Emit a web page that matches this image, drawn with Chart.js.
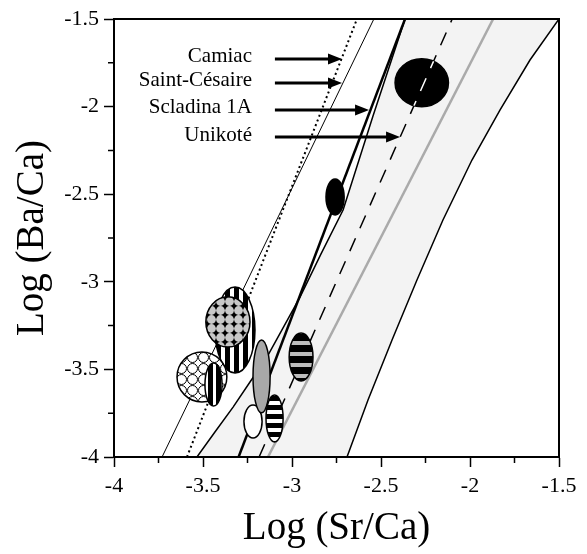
<!DOCTYPE html>
<html>
<head>
<meta charset="utf-8">
<script src="https://cdn.jsdelivr.net/npm/chart.js@4.4.0/dist/chart.umd.min.js"></script>
<style>
  html, body { margin: 0; padding: 0; background: #fff; }
  canvas { display: block; }
</style>
</head>
<body>
<canvas id="chart" width="587" height="554"></canvas>
<script>
// ticks
const xTicks = [-4, -3.5, -3, -2.5, -2, -1.5];
const xTickLabels = ["-4", "-3.5", "-3", "-2.5", "-2", "-1.5"];
const yTicks = [-4, -3.5, -3, -2.5, -2, -1.5];
const yTickLabels = ["-4", "-3.5", "-3", "-2.5", "-2", "-1.5"];

// shaded band, left and right edges (log Sr/Ca, log Ba/Ca)
const bandLeftX = [-3.534, -3.433, -3.331, -3.236, -3.14, -3.051, -2.955, -2.837, -2.713, -2.545, -2.365];
const bandLeftY = [-4, -3.857, -3.715, -3.572, -3.429, -3.264, -3.087, -2.841, -2.59, -2.054, -1.5];
const bandRightX = [-2.691, -2.573, -2.438, -2.298, -2.152, -1.989, -1.831, -1.663, -1.5];
const bandRightY = [-4, -3.675, -3.332, -2.99, -2.647, -2.305, -2.019, -1.734, -1.5];

// trend lines
const camiacX = [-3.59, -2.635];
const camiacY = [-4, -1.5];
const cesaireX = [-3.73, -2.54];
const cesaireY = [-4, -1.5];
const scladinaX = [-3.3, -2.365];
const scladinaY = [-4, -1.5];
const unikoteX = [-3.185, -2.1];
const unikoteY = [-4, -1.5];
const greyX = [-3.135, -1.87];
const greyY = [-4, -1.5];

// site labels + arrows
const siteNames = ["Camiac", "Saint-Césaire", "Scladina 1A", "Unikoté"];
const arrowY = [-1.728, -1.865, -2.019, -2.174];
const arrowFromX = [-3.096, -3.096, -3.096, -3.096];
const arrowToX = [-2.719, -2.719, -2.567, -2.393];
const labelX = -3.225;

// sample ellipses: centre and half widths in log units
const ellX = [-3.32, -3.36, -3.506, -3.441, -3.219, -3.171, -3.098, -2.949, -2.758, -2.271];
const ellY = [-3.275, -3.229, -3.543, -3.586, -3.797, -3.54, -3.78, -3.429, -2.516, -1.864];
const ellRx = [0.112, 0.124, 0.14, 0.048, 0.051, 0.048, 0.048, 0.067, 0.051, 0.15];
const ellRy = [0.245, 0.143, 0.143, 0.123, 0.094, 0.208, 0.134, 0.137, 0.103, 0.137];
const ellFill = ["vstripe", "dots", "rings", "vstripe2", "white", "grey", "hstripe", "hstripeGrey", "black", "black"];

const SERIF = "'Liberation Serif', 'Times New Roman', serif";
const pts = (xs, ys) => xs.map((v, i) => ({ x: v, y: ys[i] }));

function makePattern(ctx, w, h, draw) {
  const c = document.createElement("canvas");
  c.width = w;
  c.height = h;
  draw(c.getContext("2d"));
  return ctx.createPattern(c, "repeat");
}

let patterns = null;
function getPatterns(ctx) {
  if (patterns) return patterns;
  patterns = {
    black: "#000",
    white: "#fff",
    grey: "#a8a8a8",
    vstripe: makePattern(ctx, 9, 9, g => {
      g.fillStyle = "#fff"; g.fillRect(0, 0, 9, 9);
      g.fillStyle = "#000"; g.fillRect(0, 0, 5, 9);
    }),
    vstripe2: makePattern(ctx, 8, 8, g => {
      g.fillStyle = "#fff"; g.fillRect(0, 0, 8, 8);
      g.fillStyle = "#000"; g.fillRect(0, 0, 5, 8);
    }),
    hstripe: makePattern(ctx, 9, 9, g => {
      g.fillStyle = "#fff"; g.fillRect(0, 0, 9, 9);
      g.fillStyle = "#000"; g.fillRect(0, 0, 9, 5);
    }),
    hstripeGrey: makePattern(ctx, 11, 11, g => {
      g.fillStyle = "#000"; g.fillRect(0, 0, 11, 11);
      g.fillStyle = "#bdbdbd"; g.fillRect(0, 0, 11, 4);
    }),
    dots: makePattern(ctx, 9, 9, g => {
      g.fillStyle = "#000"; g.fillRect(0, 0, 9, 9);
      g.fillStyle = "#c8c8c8";
      g.beginPath(); g.arc(4.5, 4.5, 4.4, 0, Math.PI * 2); g.fill();
    }),
    rings: makePattern(ctx, 11, 11, g => {
      g.fillStyle = "#fff"; g.fillRect(0, 0, 11, 11);
      g.strokeStyle = "#000"; g.lineWidth = 1;
      g.beginPath(); g.arc(5.5, 5.5, 5, 0, Math.PI * 2); g.stroke();
    })
  };
  return patterns;
}

function ellipsePath(ctx, x, y, i) {
  const cx = x.getPixelForValue(ellX[i]);
  const cy = y.getPixelForValue(ellY[i]);
  const rx = Math.abs(x.getPixelForValue(ellX[i] + ellRx[i]) - cx);
  const ry = Math.abs(y.getPixelForValue(ellY[i] + ellRy[i]) - cy);
  ctx.beginPath();
  ctx.ellipse(cx, cy, rx, ry, 0, 0, Math.PI * 2);
}

const overlay = {
  id: "overlay",
  afterDatasetsDraw(chart) {
    const { ctx, chartArea: a, scales: { x, y } } = chart;
    const pat = getPatterns(ctx);
    ctx.save();

    // ellipses
    ctx.save();
    ctx.beginPath();
    ctx.rect(a.left, a.top, a.right - a.left, a.bottom - a.top);
    ctx.clip();
    ellX.forEach((v, i) => {
      ellipsePath(ctx, x, y, i);
      ctx.fillStyle = pat[ellFill[i]];
      ctx.fill();
      ctx.lineWidth = 1.5;
      ctx.strokeStyle = "#000";
      ctx.stroke();
    });
    // dashed line shows white through the big black ellipse
    ctx.save();
    ellipsePath(ctx, x, y, ellX.length - 1);
    ctx.clip();
    ctx.beginPath();
    ctx.moveTo(x.getPixelForValue(unikoteX[0]), y.getPixelForValue(unikoteY[0]));
    ctx.lineTo(x.getPixelForValue(unikoteX[1]), y.getPixelForValue(unikoteY[1]));
    ctx.setLineDash([14, 11]);
    ctx.strokeStyle = "#fff";
    ctx.lineWidth = 1.5;
    ctx.stroke();
    ctx.restore();
    ctx.restore();

    // frame
    ctx.lineWidth = 2;
    ctx.strokeStyle = "#000";
    ctx.strokeRect(a.left, a.top, a.right - a.left, a.bottom - a.top);

    // minor ticks
    ctx.lineWidth = 1.5;
    ctx.beginPath();
    for (let v = -3.75; v < -1.5; v += 0.5) {
      const px = x.getPixelForValue(v);
      ctx.moveTo(px, a.bottom);
      ctx.lineTo(px, a.bottom + 6);
      const py = y.getPixelForValue(v);
      ctx.moveTo(a.left, py);
      ctx.lineTo(a.left - 6, py);
    }
    ctx.stroke();

    // arrows and site names
    ctx.fillStyle = "#000";
    ctx.font = "21px " + SERIF;
    ctx.textAlign = "right";
    ctx.textBaseline = "middle";
    siteNames.forEach((name, i) => {
      const py = y.getPixelForValue(arrowY[i]);
      const x0 = x.getPixelForValue(arrowFromX[i]);
      const x1 = x.getPixelForValue(arrowToX[i]);
      ctx.fillText(name, x.getPixelForValue(labelX), py - 2);
      ctx.beginPath();
      ctx.lineWidth = 3;
      ctx.moveTo(x0, py);
      ctx.lineTo(x1 - 12, py);
      ctx.stroke();
      ctx.beginPath();
      ctx.moveTo(x1, py);
      ctx.lineTo(x1 - 14, py - 5.5);
      ctx.lineTo(x1 - 14, py + 5.5);
      ctx.closePath();
      ctx.fill();
    });

    ctx.restore();
  }
};

const lineSet = (data, color, width, dash) => ({
  data: data,
  borderColor: color,
  borderWidth: width,
  borderDash: dash || [],
  pointRadius: 0,
  fill: false,
  tension: 0
});

const bandData = pts(bandLeftX, bandLeftY).concat(pts(bandRightX, bandRightY).reverse());

new Chart(document.getElementById("chart"), {
  type: "line",
  data: {
    datasets: [
      lineSet(pts(scladinaX, scladinaY), "#000", 2.5),
      lineSet(pts(cesaireX, cesaireY), "#000", 1),
      lineSet(pts(camiacX, camiacY), "#000", 2, [2, 3]),
      lineSet(pts(unikoteX, unikoteY), "#000", 1.5, [14, 11]),
      lineSet(pts(greyX, greyY), "#aaaaaa", 2.5),
      {
        data: bandData,
        borderColor: "#000",
        borderWidth: 1.5,
        backgroundColor: "#f3f3f3",
        fill: "shape",
        pointRadius: 0,
        tension: 0
      }
    ]
  },
  options: {
    responsive: false,
    animation: false,
    events: [],
    layout: { padding: { top: 19, right: 28 } },
    plugins: { legend: { display: false }, tooltip: { enabled: false } },
    scales: {
      x: {
        type: "linear",
        min: -4,
        max: -1.5,
        afterBuildTicks: s => { s.ticks = xTicks.map(v => ({ value: v })); },
        afterFit: s => { s.height = 97; },
        ticks: {
          color: "#000",
          padding: 6,
          maxRotation: 0,
          font: { family: SERIF, size: 22 },
          callback: (v, i) => xTickLabels[i]
        },
        grid: { drawOnChartArea: false, tickLength: 10, tickColor: "#000", tickWidth: 1.5 },
        border: { color: "#000", width: 2 },
        title: {
          display: true,
          text: "Log (Sr/Ca)",
          color: "#000",
          font: { family: SERIF, size: 39 },
          padding: { top: 0, bottom: 2 }
        }
      },
      y: {
        type: "linear",
        min: -4,
        max: -1.5,
        afterBuildTicks: s => { s.ticks = yTicks.map(v => ({ value: v })); },
        afterFit: s => { s.width = 114; },
        ticks: {
          color: "#000",
          padding: 5,
          font: { family: SERIF, size: 22 },
          callback: (v, i) => yTickLabels[i]
        },
        grid: { drawOnChartArea: false, tickLength: 10, tickColor: "#000", tickWidth: 1.5 },
        border: { color: "#000", width: 2 },
        title: {
          display: true,
          text: "Log (Ba/Ca)",
          color: "#000",
          font: { family: SERIF, size: 39 },
          padding: { top: 9, bottom: 0 }
        }
      }
    }
  },
  plugins: [overlay]
});
</script>
</body>
</html>
